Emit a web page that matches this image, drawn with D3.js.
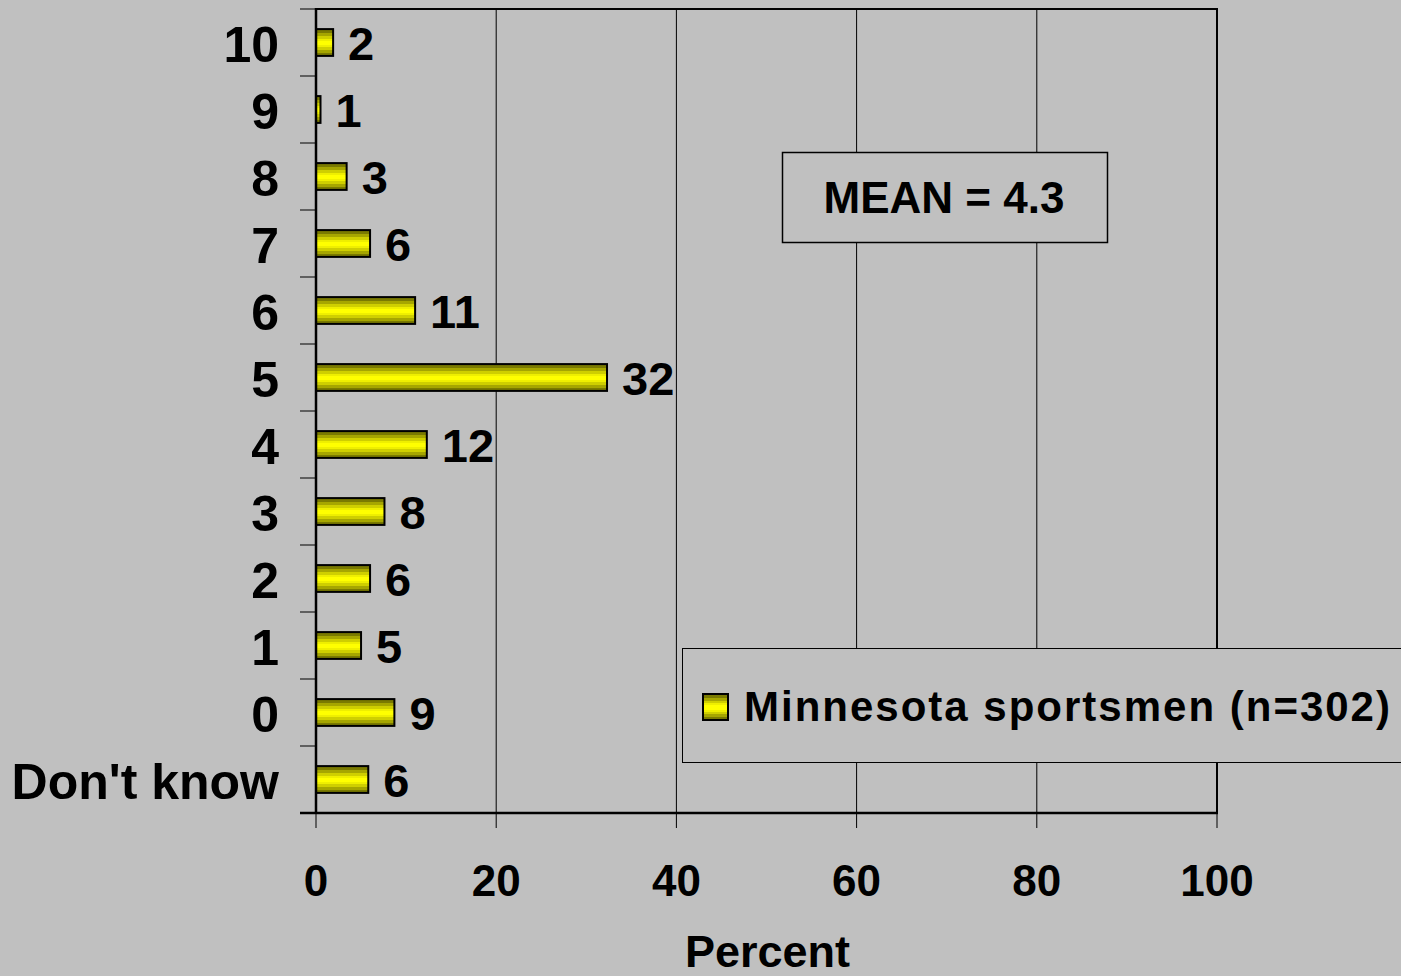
<!DOCTYPE html>
<html>
<head>
<meta charset="utf-8">
<script src="https://cdn.jsdelivr.net/npm/d3@7"></script>
<style>
  html, body { margin: 0; padding: 0; background: #C0C0C0; }
  svg { display: block; }
  text { font-family: "Liberation Sans", Arial, sans-serif; font-weight: bold; fill: #000; }
</style>
</head>
<body>
<svg id="chart" width="1401" height="976"></svg>
<script>
// ---- data ----
const categories = ["10", "9", "8", "7", "6", "5", "4", "3", "2", "1", "0", "Don't know"];
const percents   = [1.9, 0.5, 3.4, 6.0, 11.0, 32.3, 12.3, 7.6, 6.0, 5.0, 8.7, 5.8];
const valueLabels = ["2", "1", "3", "6", "11", "32", "12", "8", "6", "5", "9", "6"];
const xTicks = [0, 20, 40, 60, 80, 100];
const seriesName = "Minnesota sportsmen (n=302)";
const meanText = "MEAN = 4.3";
const axisTitle = "Percent";

// ---- layout ----
const plotL = 316, plotR = 1217, plotT = 9, plotB = 813;

const svg = d3.select("#chart");

// gradient for bars
const defs = svg.append("defs");
const grad = defs.append("linearGradient").attr("id", "barGrad")
  .attr("x1", 0).attr("y1", 0).attr("x2", 0).attr("y2", 1);
const bands = [
  [0, "#7A7A00"], [0.14, "#7A7A00"], [0.14, "#A6A600"], [0.26, "#A6A600"],
  [0.26, "#CFCF00"], [0.36, "#CFCF00"], [0.36, "#EFEF00"], [0.44, "#EFEF00"],
  [0.44, "#FFFF00"], [0.60, "#FFFF00"], [0.60, "#EFEF00"], [0.68, "#EFEF00"],
  [0.68, "#CFCF00"], [0.78, "#CFCF00"], [0.78, "#A6A600"], [0.88, "#A6A600"],
  [0.88, "#7A7A00"], [1, "#7A7A00"]
];
bands.forEach(([o, c]) => grad.append("stop").attr("offset", o).attr("stop-color", c));

const x = d3.scaleLinear().domain([0, 100]).range([plotL, plotR]);
const y = d3.scaleBand().domain(categories).range([plotT, plotB]).paddingInner(0.6).paddingOuter(0.3);
const yOuter = d3.scaleBand().domain(categories).range([plotT, plotB]);

// gridlines
svg.append("g").selectAll("line").data(xTicks.filter(t => t > 0 && t < 100)).join("line")
  .attr("x1", d => x(d)).attr("x2", d => x(d))
  .attr("y1", plotT).attr("y2", plotB)
  .attr("stroke", "#000").attr("stroke-width", 1);

// plot border top + right
svg.append("line").attr("x1", plotL).attr("x2", plotR + 1).attr("y1", plotT).attr("y2", plotT)
  .attr("stroke", "#000").attr("stroke-width", 2);
svg.append("line").attr("x1", plotR).attr("x2", plotR).attr("y1", plotT).attr("y2", plotB)
  .attr("stroke", "#000").attr("stroke-width", 2);

// left category ticks (at band boundaries)
const boundaries = categories.map(c => yOuter(c)).concat([plotB]);
svg.append("g").selectAll("line").data(boundaries).join("line")
  .attr("x1", plotL - 16).attr("x2", plotL)
  .attr("y1", d => d).attr("y2", d => d)
  .attr("stroke", "#000").attr("stroke-width", 1);

// bottom ticks
svg.append("g").selectAll("line").data(xTicks).join("line")
  .attr("x1", d => x(d)).attr("x2", d => x(d))
  .attr("y1", plotB).attr("y2", plotB + 15)
  .attr("stroke", "#000").attr("stroke-width", 1);

// bars
svg.append("g").selectAll("rect").data(categories).join("rect")
  .attr("x", plotL)
  .attr("y", (d) => y(d))
  .attr("width", (d, i) => x(percents[i]) - plotL)
  .attr("height", y.bandwidth())
  .attr("fill", "url(#barGrad)")
  .attr("stroke", "#000").attr("stroke-width", 2);

// axes lines
svg.append("line").attr("x1", plotL).attr("x2", plotL).attr("y1", plotT - 1).attr("y2", plotB + 1)
  .attr("stroke", "#000").attr("stroke-width", 2.5);
svg.append("line").attr("x1", plotL - 16).attr("x2", plotR + 1).attr("y1", plotB).attr("y2", plotB)
  .attr("stroke", "#000").attr("stroke-width", 2.5);

// value labels
svg.append("g").selectAll("text").data(categories).join("text")
  .attr("x", (d, i) => x(percents[i]) + 15)
  .attr("y", d => y(d) + y.bandwidth() / 2 + 17)
  .attr("font-size", 47)
  .text((d, i) => valueLabels[i]);

// category labels
svg.append("g").selectAll("text").data(categories).join("text")
  .attr("x", 279)
  .attr("y", d => yOuter(d) + yOuter.bandwidth() / 2 + 19)
  .attr("text-anchor", "end")
  .attr("font-size", 50)
  .text(d => d);

// x tick labels
svg.append("g").selectAll("text").data(xTicks).join("text")
  .attr("x", d => x(d))
  .attr("y", 896)
  .attr("text-anchor", "middle")
  .attr("font-size", 44)
  .text(d => d);

// axis title
svg.append("text").attr("x", (plotL + plotR) / 2 + 1).attr("y", 967)
  .attr("text-anchor", "middle").attr("font-size", 45).text(axisTitle);

// mean box
svg.append("rect").attr("x", 782.5).attr("y", 152.5).attr("width", 325).attr("height", 90)
  .attr("fill", "#C0C0C0").attr("stroke", "#000").attr("stroke-width", 1.5);
svg.append("text").attr("x", 944).attr("y", 213).attr("text-anchor", "middle")
  .attr("font-size", 44).text(meanText);

// legend
svg.append("rect").attr("x", 682.5).attr("y", 648.5).attr("width", 760).attr("height", 114)
  .attr("fill", "#C0C0C0").attr("stroke", "#000").attr("stroke-width", 1);
svg.append("rect").attr("x", 703).attr("y", 694).attr("width", 25).attr("height", 26)
  .attr("fill", "url(#barGrad)").attr("stroke", "#000").attr("stroke-width", 2);
svg.append("text").attr("x", 744).attr("y", 721).attr("font-size", 42)
  .attr("letter-spacing", 2).text(seriesName);
</script>
</body>
</html>
